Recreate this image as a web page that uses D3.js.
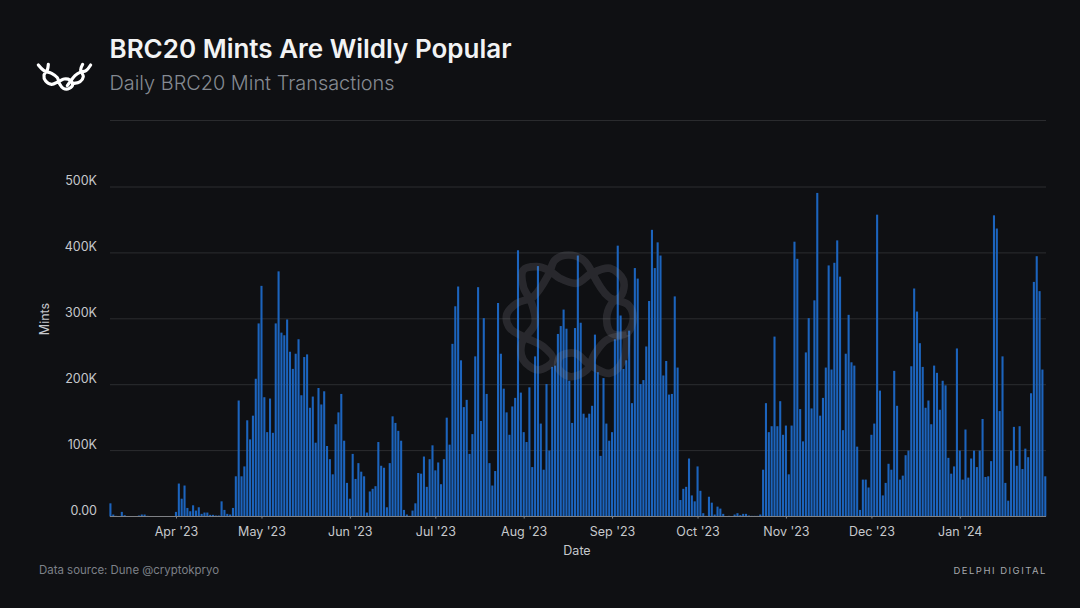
<!DOCTYPE html>
<html><head><meta charset="utf-8">
<script src="https://cdn.jsdelivr.net/npm/d3@7"></script>
<style>
html,body{margin:0;padding:0;background:#0f1013;}
svg{display:block;font-family:Inter,"Noto Sans",sans-serif;}
</style></head><body><svg id="c" width="1080" height="608"></svg>
<script>
const title="BRC20 Mints Are Wildly Popular";
const subtitle="Daily BRC20 Mint Transactions";
const source="Data source: Dune @cryptokpryo";
const brand="DELPHI DIGITAL";
const xTitle="Date", yTitle="Mints";
const startDate="2023-03-09";
const monthTicks=["2023-04-01","2023-05-01","2023-06-01","2023-07-01","2023-08-01","2023-09-01","2023-10-01","2023-11-01","2023-12-01","2024-01-01"];
const yTicks=[0,100000,200000,300000,400000,500000];
// daily mints, thousands
const marApr=[20,3,1,0.5,7,2,0.5,0.5,0.5,0.5,1.5,3,3,1,0.5,0.5,0.5,0.5,0.5,0.5,0.5,0.5,0.5,7,50,27,47,13,8,17,9,14,4,6,6,2.5,2.5,1.5,1.5,23,10,4,3,13,61,176,61,76,146,117,153,209,293];
const mayJun=[350,181,128,179,127,293,372,279,275,299,250,224,247,269,184,242,246,165,182,112,195,170,190,107,87,64,140,158,186,115,51,27,95,57,81,68,61,6,38,42,46,113,77,74,14,81,152,142,130,115,10,3,1,9,20,66,65,91,45,87,108];
const julAug=[70,82,49,87,150,109,262,319,349,237,166,177,95,125,243,348,145,301,186,81,47,69,324,247,194,158,124,167,180,404,188,128,113,196,75,243,380,141,71,201,100,227,229,277,289,314,285,206,142,286,396,294,156,150,156,168,276,219,92,210,141,115];
const sepOct=[128,269,411,305,224,237,282,172,377,361,201,207,258,327,435,377,416,396,214,236,185,186,334,226,25,42,45,88,32,23,76,39,5,1,30,21,3,15,12,4,0.5,1,0.5,3,5,2,4,4,1.5,1,1,1,3,71,172,128,137,273,137,175,124];
const novDec=[138,64,138,417,391,163,114,249,301,164,328,491,153,180,226,381,223,385,419,364,131,247,306,234,229,106,10,56,56,44,124,141,458,191,32,51,80,71,221,168,56,62,93,100,228,346,311,263,227,165,176,140,229,218,162,206,199,89,65,76,255];
const jan=[100,56,132,59,88,100,75,100,148,60,61,84,457,437,160,243,51,24,100,136,77,137,72,103,90,187,356,395,342,223,61];
const mintsK=[...marApr,...mayJun,...julAug,...sepOct,...novDec,...jan];

const W=1080,M={l:110,r:1046,t:187,b:516.5};
const svg=d3.select("#c");
const parse=d3.utcParse("%Y-%m-%d");
const fmt=d3.utcFormat("%b '%y");
const t0=parse(startDate);
const dates=mintsK.map((_,i)=>d3.utcDay.offset(t0,i));
const x=d3.scaleBand().domain(dates.map(d=>+d)).range([M.l-0.9,M.r+0.6]).paddingInner(0.27).paddingOuter(0.1);
const y=d3.scaleLinear().domain([0,500000]).range([M.b,M.t]);

// background + header
svg.append("rect").attr("width",W).attr("height",608).attr("fill","#0f1013");
svg.append("line").attr("x1",M.l).attr("x2",M.r).attr("y1",120.5).attr("y2",120.5).attr("stroke","#2a2b2e");
svg.append("text").attr("x",109.5).attr("y",58).attr("fill","#f2f3f4").attr("font-size",26).attr("font-weight",600).text(title);
svg.append("text").attr("x",109.5).attr("y",90).attr("fill","#858a92").attr("font-size",19.9).attr("font-weight",300).text(subtitle);

// grid + y axis
const ya=svg.append("g").attr("transform",`translate(${M.l},0)`).call(d3.axisLeft(y).tickValues(yTicks).tickSize(0).tickFormat(d=>d===0?"0.00":(d/1000)+"K"));
ya.select(".domain").remove();
ya.selectAll("text").attr("x",-13).attr("dy","-2.1").attr("fill","#c6c8cc").attr("font-size",12.5).attr("font-family","Inter");
svg.append("g").selectAll("line").data(yTicks.slice(1)).join("line")
 .attr("x1",M.l).attr("x2",M.r).attr("y1",d=>y(d)).attr("y2",d=>y(d)).attr("stroke","#2c2d30");

// bars
svg.append("g").selectAll("rect").data(mintsK).join("rect")
 .attr("x",(d,i)=>x(+dates[i])).attr("width",x.bandwidth())
 .attr("y",d=>y(d*1000)).attr("height",d=>M.b-y(d*1000)).attr("fill","#1c64bd");

// baseline + x axis
const xa=svg.append("g").attr("transform",`translate(0,${M.b})`).call(
 d3.axisBottom(d3.scaleUtc().domain([t0,d3.utcDay.offset(t0,mintsK.length-1)]).range([x(+dates[0])+x.bandwidth()/2,x(+dates[dates.length-1])+x.bandwidth()/2]))
 .tickValues(monthTicks.map(parse)).tickFormat(fmt).tickSize(2).tickSizeOuter(0));
xa.select(".domain").attr("stroke","#7f8185").attr("d",`M${M.l},0H${M.r}`);
xa.selectAll(".tick line").attr("stroke","#7f8185");
xa.selectAll("text").attr("y",11).attr("fill","#c6c8cc").attr("font-size",12.5).attr("font-family","Inter");

svg.append("text").attr("x",577).attr("y",555).attr("text-anchor","middle").attr("fill","#c6c8cc").attr("font-size",12.5).text(xTitle);
svg.append("text").attr("transform","translate(49,319) rotate(-90)").attr("text-anchor","middle").attr("fill","#c6c8cc").attr("font-size",12.5).text(yTitle);

// footer
svg.append("text").attr("x",39).attr("y",574).attr("fill","#7d8188").attr("font-size",11.45).text(source);
svg.append("text").attr("x",1047).attr("y",574).attr("text-anchor","end").attr("fill","#a6a9ad").attr("font-size",9.5).attr("letter-spacing",1.5).text(brand);

// watermark (zoom-traced knot, decoration)
const wm=svg.append("g").attr("transform","translate(480,240) scale(0.3333)").attr("fill","none").attr("stroke","#8a8d94").attr("stroke-opacity",0.2).attr("stroke-width",23);
const curve=d3.line().curve(d3.curveCatmullRom.alpha(0.5));
const strands=[
 [[335,95],[310,60],[265,45],[225,60],[205,105],[160,170],[110,190],[80,225],[90,265],[130,290],[190,320],[220,360],[175,390],[130,360],[125,310],[165,250],[155,190],[130,140],[130,90],[170,80],[205,90],[240,115],[290,130],[335,100],[390,85],[430,120],[425,165],[395,190],[380,240],[395,280],[440,280],[460,235],[445,195],[385,170],[335,95]],
 [[440,285],[380,300],[345,340],[320,390],[270,410],[235,385],[240,350],[285,340],[330,375],[390,400],[430,360],[440,285]]
];
wm.selectAll("path").data(strands).join("path").attr("d",d=>curve(d));

// logo
const lg=svg.append("g").attr("transform","translate(30,55) scale(0.3333)").attr("fill","none").attr("stroke","#ffffff").attr("stroke-width",9.5).attr("stroke-linecap","round");
const logoStrands=[
 [[25,30],[42,47],[65,55],[82,68],[88,85],[100,100],[118,100],[128,88],[120,75],[102,72],[85,80],[65,88],[47,78],[42,60],[52,45],[55,28]],
 [[182,30],[168,47],[150,52],[135,62],[122,78],[112,92]],
 [[158,28],[152,45],[160,65],[150,80],[132,85]]
];
lg.selectAll("path").data(logoStrands).join("path").attr("d",d=>curve(d));
</script></body></html>
